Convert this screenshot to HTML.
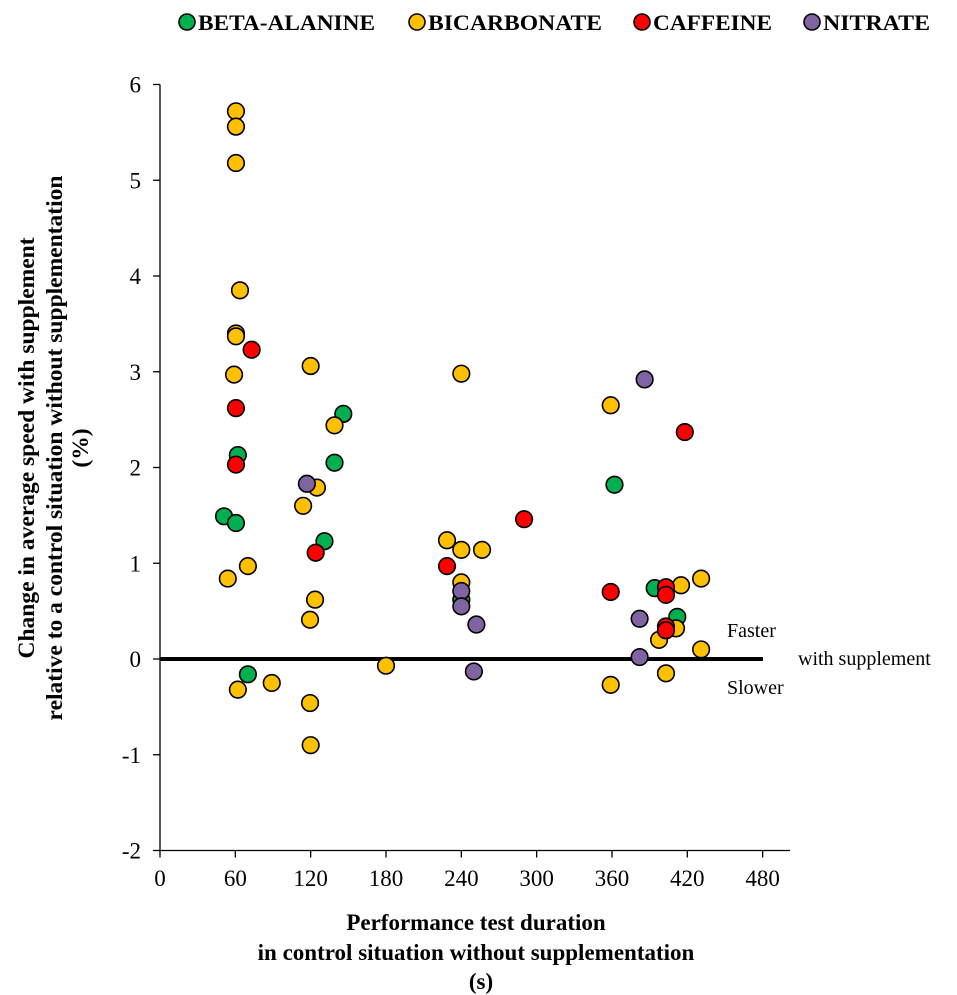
<!DOCTYPE html>
<html><head><meta charset="utf-8"><style>
body{margin:0;background:#fff}
svg{display:block;font-family:"Liberation Serif",serif}
</style></head><body>
<svg id="chart" width="957" height="995" viewBox="0 0 957 995">
<g id="legend"></g>
<g id="axes"></g>
<g id="marks"></g>
<text x="727" y="637" font-size="20">Faster</text>
<text x="798" y="665" font-size="20">with supplement</text>
<text x="727" y="694" font-size="20">Slower</text>
<g font-weight="bold" font-size="23" text-anchor="middle">
<text x="476" y="930">Performance test duration</text>
<text x="476" y="960">in control situation without supplementation</text>
<text x="481" y="989">(s)</text>
</g>
<g font-weight="bold" font-size="23.5" text-anchor="middle" transform="translate(0,448) rotate(-90)">
<text x="0" y="34">Change in average speed with supplement</text>
<text x="0" y="62">relative to a control situation without supplementation</text>
<text x="0" y="88">(%)</text>
</g>
</svg>
<script>
const seriesNames=["BETA-ALANINE","BICARBONATE","CAFFEINE","NITRATE"];
const seriesColors=["#00b050","#ffc000","#ff0000","#8064a2"];
const betaX=[51,60.5,62,70,131,139,146,240,362,394,412];
const betaY=[1.49,1.42,2.13,-0.16,1.23,2.05,2.56,0.62,1.82,0.74,0.44];
const bicX=[60.5,60.5,60.5,63.7,60.5,60.5,59,54,70,62,89,120,139,125,114,123.5,119.5,119.5,120,180,240,228.6,240,256.5,240,359,359,403,397.5,411,415,431,431];
const bicY=[5.72,5.56,5.18,3.85,3.4,3.37,2.97,0.84,0.97,-0.32,-0.25,3.06,2.44,1.79,1.6,0.62,0.41,-0.46,-0.9,-0.07,2.98,1.24,1.14,1.14,0.8,2.65,-0.27,-0.15,0.2,0.32,0.77,0.84,0.1];
const cafX=[73,60.5,60.5,124,228.6,290,359,418,403,403,403,403];
const cafY=[3.23,2.62,2.03,1.11,0.97,1.46,0.70,2.37,0.75,0.67,0.34,0.30];
const nitX=[117,240,240,252,250,386,382,382];
const nitY=[1.83,0.71,0.55,0.36,-0.13,2.92,0.42,0.02];
const xTicks=[0,60,120,180,240,300,360,420,480];
const yTicks=[-2,-1,0,1,2,3,4,5,6];
const NS="http://www.w3.org/2000/svg";
const X=v=>160+v*1.2555;
const Y=v=>659-v*95.75;
function mk(tag,attrs,parent){const e=document.createElementNS(NS,tag);for(const k in attrs)e.setAttribute(k,attrs[k]);parent.appendChild(e);return e;}
const axes=document.getElementById('axes');
let l=mk('line',{x1:160,y1:Y(6),x2:160,y2:Y(-2),stroke:'#000','stroke-width':1.3},axes);


l=mk('line',{x1:160,y1:Y(-2),x2:790,y2:Y(-2),stroke:'#000','stroke-width':1.3},axes);


yTicks.forEach(t=>{
 const tk=mk('line',{x1:153,x2:160,y1:Y(t),y2:Y(t),stroke:'#000','stroke-width':1.3},axes);
 
 
 const tx=mk('text',{x:141,y:Y(t)+8,'font-size':23,'text-anchor':'end'},axes);
 tx.textContent=t;
 
 
});
xTicks.forEach(t=>{
 const tk=mk('line',{x1:X(t),x2:X(t),y1:Y(-2),y2:Y(-2)+7,stroke:'#000','stroke-width':1.3},axes);
 
 
 const tx=mk('text',{x:X(t),y:886,'font-size':23,'text-anchor':'middle'},axes);
 tx.textContent=t;
 
 
});
l=mk('line',{x1:160,x2:763,y1:Y(0),y2:Y(0),stroke:'#000','stroke-width':4},axes);


const marks=document.getElementById('marks');
const all=[[betaX,betaY],[bicX,bicY],[cafX,cafY],[nitX,nitY]];
all.forEach((s,i)=>{
 s[0].forEach((x,j)=>{
  const c=mk('circle',{cx:X(x),cy:Y(s[1][j]),r:8.3,fill:seriesColors[i],stroke:'#000','stroke-width':1.6},marks);
  
  
 });
});
const leg=document.getElementById('legend');
const legX=[187,417,642,812];
const legW=[177,174,119,107];
seriesNames.forEach((n,i)=>{
 const c=mk('circle',{cx:legX[i],cy:22,r:8,fill:seriesColors[i],stroke:'#000','stroke-width':1.6},leg);
 
 
 const t=mk('text',{x:legX[i]+11,y:30,'font-size':22,'font-weight':'bold',textLength:legW[i],lengthAdjust:'spacingAndGlyphs'},leg);
 t.textContent=n;
 
 
});
</script>
</body></html>
